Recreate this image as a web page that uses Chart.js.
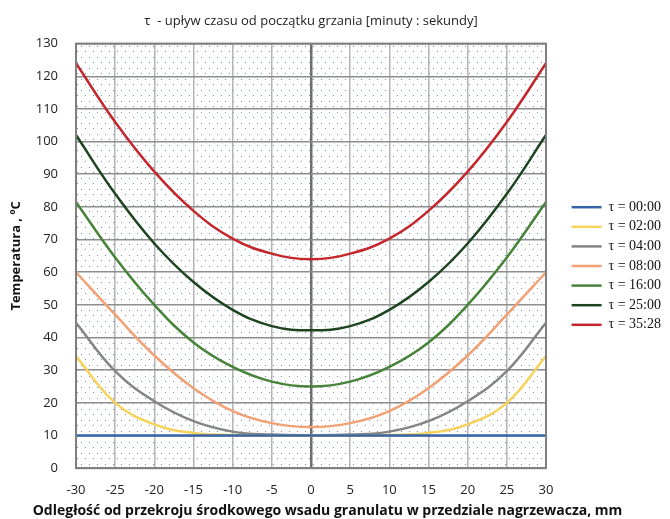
<!DOCTYPE html>
<html>
<head>
<meta charset="utf-8">
<script src="https://cdn.jsdelivr.net/npm/chart.js@4.4.1/dist/chart.umd.min.js"></script>
<style>
    html, body { margin: 0; padding: 0; background: #ffffff; }
    #wrap { width: 670px; height: 519px; }
</style>
</head>
<body>
<div id="wrap"><canvas id="chart"></canvas></div>
<script>
// odległość od środka wsadu, mm
const distances = [-30, -25, -20, -15, -10, -5, 0, 5, 10, 15, 20, 25, 30];

// temperatura, °C  (odczyt z wykresu)
const t0000 = [10, 10, 10, 10, 10, 10, 10, 10, 10, 10, 10, 10, 10];
const t0200 = [34.3, 20, 13.4, 10.8, 10.2, 10, 10, 10, 10.2, 10.8, 13.4, 20, 34.3];
const t0400 = [44.5, 29.7, 20.5, 14.4, 11.2, 10.3, 10.1, 10.3, 11.2, 14.4, 20.5, 29.7, 44.5];
const t0800 = [60, 47, 34.5, 24.5, 17.5, 13.8, 12.6, 13.8, 17.5, 24.5, 34.5, 47, 60];
const t1600 = [81.5, 64.5, 50, 38.5, 31, 26.5, 25, 26.5, 31, 38.5, 50, 64.5, 81.5];
const t2500 = [102, 84, 68.8, 57, 48.5, 43.5, 42.2, 43.5, 48.5, 57, 68.8, 84, 102];
const t3528 = [124, 106, 90.8, 78.8, 70.3, 65.7, 64, 65.7, 70.3, 78.8, 90.8, 106, 124];

const seriesLabels = ['τ = 00:00', 'τ = 02:00', 'τ = 04:00', 'τ = 08:00', 'τ = 16:00', 'τ = 25:00', 'τ = 35:28'];
const seriesValues = [t0000, t0200, t0400, t0800, t1600, t2500, t3528];
const seriesColors = ['#3564a8', '#f7d35c', '#858585', '#f2a174', '#47843a', '#1f4520', '#c4262c'];

const yTicks = [0, 10, 20, 30, 40, 50, 60, 70, 80, 90, 100, 110, 120, 130];

// kropkowane tło obszaru wykresu
function dotPattern(ctx) {
    const c = document.createElement('canvas');
    c.width = 8; c.height = 11;
    const p = c.getContext('2d');
    p.fillStyle = '#ffffff';
    p.fillRect(0, 0, 8, 11);
    p.fillStyle = '#7a8cba';
    p.fillRect(1, 2, 1, 1);
    p.fillRect(5, 7, 1, 1);
    return ctx.createPattern(c, 'repeat');
}

const plotBackground = {
    id: 'plotBackground',
    afterLayout(chart) {
        // legenda trochę dalej od obszaru wykresu
        chart.legend.left += 20;
        chart.legend.right += 20;
    },
    beforeDraw(chart) {
        const { ctx, chartArea: a } = chart;
        ctx.save();
        ctx.fillStyle = dotPattern(ctx);
        ctx.fillRect(a.left, a.top, a.right - a.left, a.bottom - a.top);
        ctx.restore();
    },
    afterDraw(chart) {
        const { ctx, chartArea: a } = chart;
        ctx.save();
        ctx.strokeStyle = '#7f7f7f';
        ctx.lineWidth = 2;
        ctx.strokeRect(a.left, a.top, a.right - a.left, a.bottom - a.top);
        ctx.restore();
    }
};

const datasets = seriesValues.map((vals, i) => ({
    label: seriesLabels[i],
    data: distances.map((x, j) => ({ x: x, y: vals[j] })),
    borderColor: seriesColors[i],
    backgroundColor: seriesColors[i],
    borderWidth: 2.5,
    pointRadius: 0,
    tension: 0.4,
    fill: false
}));

new Chart(document.getElementById('chart'), {
    type: 'line',
    data: { datasets: datasets },
    options: {
        responsive: true,
        maintainAspectRatio: false,
        animation: false,
        layout: { padding: { top: 13, right: 19, left: 4, bottom: 0 } },
        plugins: {
            title: {
                display: true,
                text: 'τ  - upływ czasu od początku grzania [minuty : sekundy]',
                fullSize: false,
                color: '#222222',
                font: { family: 'Open Sans', size: 13, weight: 'normal' },
                padding: { top: 0, bottom: 15 }
            },
            subtitle: {
                display: true,
                position: 'bottom',
                text: 'Odległość od przekroju środkowego wsadu granulatu w przedziale nagrzewacza, mm',
                color: '#111111',
                font: { family: 'Open Sans', size: 14, weight: 'bold' },
                padding: { top: 0, bottom: 0 }
            },
            legend: {
                position: 'right',
                align: 'center',
                labels: {
                    color: '#111111',
                    font: { family: 'Liberation Serif', size: 14 },
                    usePointStyle: true,
                    pointStyle: 'line',
                    pointStyleWidth: 30,
                    padding: 5.6
                }
            },
            tooltip: { enabled: false }
        },
        scales: {
            x: {
                type: 'linear',
                min: -30,
                max: 30,
                afterBuildTicks(axis) { axis.ticks = distances.map(v => ({ value: v })); },
                afterFit(axis) { axis.height = 34; },
                grid: {
                    color: ctx => ctx.tick && ctx.tick.value === 0 ? '#6e6e6e' : '#b4b4b4',
                    lineWidth: ctx => ctx.tick && ctx.tick.value === 0 ? 2.5 : 1.5,
                    drawTicks: false
                },
                border: { display: false },
                ticks: {
                    color: '#222222',
                    font: { family: 'Open Sans', size: 13 },
                    padding: 14,
                    maxRotation: 0
                }
            },
            y: {
                min: 0,
                max: 130,
                afterBuildTicks(axis) { axis.ticks = yTicks.map(v => ({ value: v })); },
                afterFit(axis) { axis.width = 72; },
                grid: { color: '#8e8e8e', lineWidth: 1.5, drawTicks: false },
                border: { display: false },
                ticks: {
                    color: '#222222',
                    font: { family: 'Open Sans', size: 13 },
                    padding: 18
                },
                title: {
                    display: true,
                    text: 'Temperatura , ºC',
                    color: '#111111',
                    font: { family: 'Open Sans', size: 13, weight: 'bold' },
                    padding: { bottom: 4 }
                }
            }
        }
    },
    plugins: [plotBackground]
});
</script>
</body>
</html>
